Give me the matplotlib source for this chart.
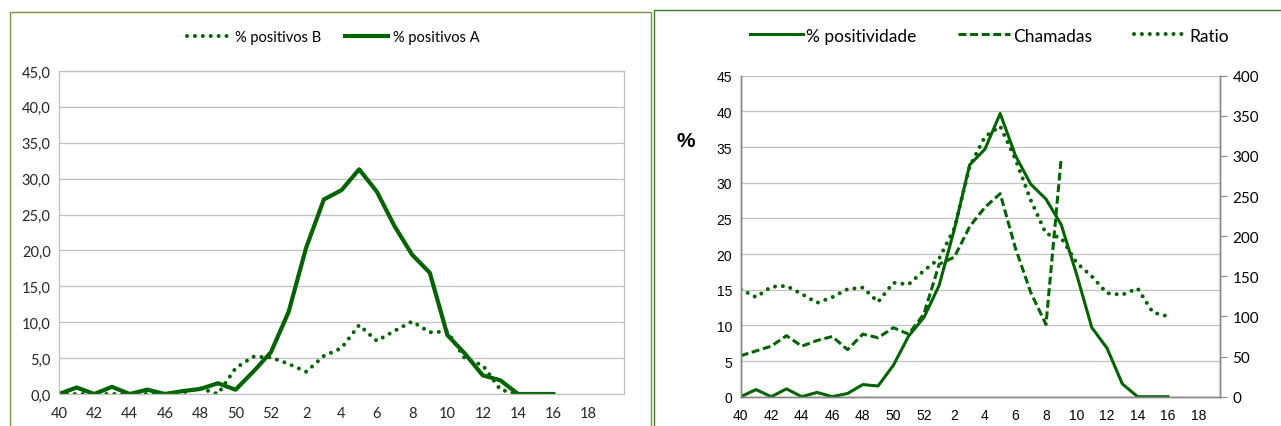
import numpy as np
import matplotlib
matplotlib.use('Agg')
import matplotlib.pyplot as plt
from matplotlib.patches import Rectangle

# semanas 40..52 e 1..16
weeks = [str(w) for w in list(range(40, 53)) + list(range(1, 17))]
tick_weeks = ['40', '42', '44', '46', '48', '50', '52', '2', '4', '6', '8', '10', '12', '14', '16', '18']

pos_A = [0, 0.9, 0, 1.0, 0, 0.6, 0, 0.4, 0.7, 1.5, 0.6, 3.1, 5.8,
         11.4, 20.4, 27.1, 28.4, 31.3, 28.2, 23.4, 19.4, 16.9, 8.2, 5.6, 2.6, 1.9, 0, 0, 0]
pos_B = [0, 0, 0, 0, 0, 0, 0, 0.2, 0.8, 0, 3.6, 5.2, 5.1,
         4.2, 3.1, 5.3, 6.4, 9.6, 7.4, 8.8, 10.1, 8.6, 8.7, 4.9, 4.0, 0.6, 0, 0, 0]

positividade = [0, 1.0, 0, 1.1, 0, 0.6, 0, 0.45, 1.7, 1.5, 4.4, 8.5, 11.1,
                15.6, 23.5, 32.5, 34.7, 39.7, 33.8, 29.8, 27.7, 24.1, 17.2, 9.7, 6.8, 1.8, 0, 0, 0]
chamadas = [51, 57, 63, 76, 63, 70, 75, 58.6, 78, 73.5, 86, 78, 103,
            165, 174, 212, 236, 253, 185, 130, 90, 298]
ratio = [134, 124, 137, 138, 128, 117, 124, 134, 136, 118, 142, 140, 157,
         172, 210, 287, 324, 337, 296, 245, 203, 198, 167, 150, 129, 127, 135, 105, 100]

green = '#006400'
grid_c = '#c0c0c0'
calibri = ['Lato', 'DejaVu Sans']
arial = ['Liberation Sans', 'DejaVu Sans']

x = np.arange(len(weeks))
xt = np.arange(0, 31, 2)

fig = plt.figure(figsize=(12.81, 4.27), dpi=100)

# molduras
fig.add_artist(Rectangle((10/1281, -0.05), 640.7/1281, 1.05 - 12.7/427,
                         transform=fig.transFigure, fill=False, ec='#77933c', lw=1.0))
fig.add_artist(Rectangle((654.3/1281, -0.05), 0.5, 1.05 - 11.3/427,
                         transform=fig.transFigure, fill=False, ec='#2e7d1f', lw=1.0))

# grafico esquerdo
ax1 = fig.add_axes([59/1281, 32/427, 565/1281, 323/427])
ax1.plot(x, pos_B, color=green, lw=2.9, linestyle=(0, (0.01, 1.95)),
         dash_capstyle='round', label='% positivos B')
ax1.plot(x, pos_A, color=green, lw=3.0, label='% positivos A')
ax1.set_xlim(0, 32)
ax1.set_ylim(0, 45)
ax1.set_yticks(np.arange(0, 46, 5))
ax1.set_yticklabels([('%.1f' % v).replace('.', ',') for v in np.arange(0, 46, 5)],
                    family=calibri, fontsize=10.5, color='#262626')
ax1.set_xticks(xt)
ax1.set_xticklabels(tick_weeks, family=calibri, fontsize=10.5, color='#262626')
ax1.tick_params(length=0, pad=6)
ax1.tick_params(axis='x', pad=9)
ax1.grid(axis='y', color=grid_c, lw=0.9)
ax1.set_axisbelow(True)
for s in ax1.spines.values():
    s.set_color('#bfbfbf')
    s.set_linewidth(0.9)
ax1.legend(loc='center', bbox_to_anchor=(0.485, 1.105), ncol=2, frameon=False,
           prop={'family': calibri, 'size': 10.5}, handlelength=3.0,
           columnspacing=1.6, handletextpad=0.3)

# grafico direito
ax2 = fig.add_axes([740.7/1281, 29.3/427, 479.3/1281, 321/427])
ax3 = ax2.twinx()
l1, = ax2.plot(x, positividade, color=green, lw=2.2, label='% positividade')
l2, = ax3.plot(x[:len(chamadas)], chamadas, color=green, lw=2.2,
               linestyle=(0, (2.6, 1.2)), label='Chamadas')
l3, = ax3.plot(x, ratio, color=green, lw=2.9, linestyle=(0, (0.01, 1.95)),
               dash_capstyle='round', label='Ratio')
ax2.set_xlim(0, 31.4)
ax2.set_ylim(0, 45)
ax3.set_ylim(0, 400)
ax2.set_yticks(np.arange(0, 46, 5))
ax2.set_yticklabels([str(v) for v in range(0, 46, 5)], family=arial, fontsize=10)
ax3.set_yticks(np.arange(0, 401, 50))
ax3.set_yticklabels([str(v) for v in range(0, 401, 50)], family=calibri, fontsize=11)
ax2.set_xticks(xt)
ax2.set_xticklabels(tick_weeks, family=arial, fontsize=10)
ax2.tick_params(length=0, pad=6)
ax2.tick_params(axis='x', pad=8)
ax3.tick_params(length=5, color='#868686', pad=4)
ax2.grid(axis='y', color=grid_c, lw=0.9)
ax2.set_axisbelow(True)
for a in (ax2, ax3):
    a.spines['top'].set_visible(False)
    for k in ('left', 'right', 'bottom'):
        a.spines[k].set_color('#868686')
        a.spines[k].set_linewidth(1.0)
ax2.set_ylabel('%', family=arial, fontsize=15, fontweight='bold', rotation=0,
               labelpad=0)
ax2.yaxis.set_label_coords(-0.115, 0.77)
ax2.legend(handles=[l1, l2, l3], loc='center', bbox_to_anchor=(0.52, 1.125), ncol=3,
           frameon=False, prop={'family': calibri, 'size': 12.5}, handlelength=3.0,
           columnspacing=2.4, handletextpad=0.2)

plt.savefig('out.png', dpi=100)
